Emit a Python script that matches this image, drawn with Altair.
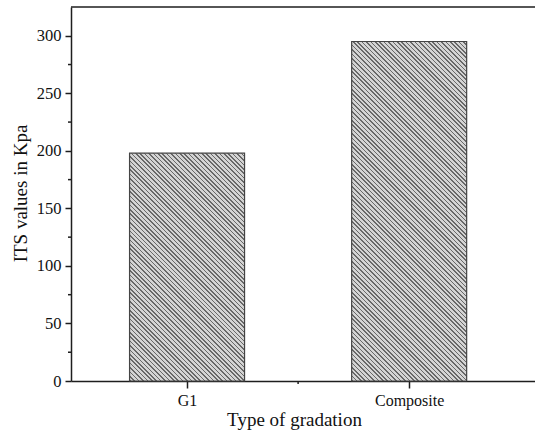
import math

import altair as alt
import pandas as pd

# ---- data -------------------------------------------------------------
categories = ["G1", "Composite"]
its_kpa = [198, 295]

y_major_ticks = [0, 50, 100, 150, 200, 250, 300]
y_minor_ticks = [25, 75, 125, 175, 225, 275]
x_minor_ticks = [1.5]

# ---- layout -----------------------------------------------------------
PLOT_W = 464
PLOT_H = 374
Y_MAX = 325
STEP_PX = 227          # pixels between category centres
BAR_W = 115            # bar width in pixels
X_MIN = 0.5
X_MAX = X_MIN + PLOT_W / STEP_PX

FONT = "Liberation Serif"
INK = "#1e1e1e"

positions = [i + 1 for i in range(len(categories))]
bars_df = pd.DataFrame({"cat": categories, "pos": positions, "value": its_kpa})

label_expr = " : ".join(
    f"datum.value == {p} ? '{c}'" for p, c in zip(positions, categories)
) + " : ''"


def hatch_fill(height_px, width_px, period=3.1, dark_frac=0.36,
               dark="#686868", light="#d4d4d4"):
    """Diagonal '\\' hatching built as a striped linear gradient."""
    w, h = float(width_px), float(height_px)
    k = (w + h) / (w * w + h * h)
    span = (w + h) / math.sqrt(2)
    n = max(1, int(span / period))
    stops = []
    for i in range(n):
        a = i / n
        b = (i + dark_frac) / n
        c = (i + 1) / n
        stops += [
            {"offset": a, "color": dark},
            {"offset": b, "color": dark},
            {"offset": b, "color": light},
            {"offset": c, "color": light},
        ]
    return {
        "gradient": "linear",
        "x1": 0, "y1": 1,
        "x2": k * w, "y2": 1 - k * h,
        "stops": stops,
    }


x_scale = alt.Scale(domain=[X_MIN, X_MAX], nice=False, zero=False)
y_scale = alt.Scale(domain=[0, Y_MAX], nice=False)

x_axis = alt.Axis(
    values=positions,
    labelExpr=label_expr,
    grid=False,
    tickSize=7, tickWidth=1.5, tickColor=INK,
    domainColor=INK, domainWidth=1.5,
    labelFont=FONT, labelFontSize=16, labelColor="#111",
    labelPadding=4,
    title="Type of gradation",
    titleFont=FONT, titleFontSize=19, titleFontWeight="normal", titleColor="#111",
    titleX=223, titleY=44, titleAlign="center", titleBaseline="alphabetic",
)
y_axis = alt.Axis(
    values=y_major_ticks,
    grid=False,
    tickSize=6, tickWidth=1.5, tickColor=INK,
    domainColor=INK, domainWidth=1.5,
    labelFont=FONT, labelFontSize=16.5, labelColor="#111",
    labelPadding=4,
    title="ITS values in Kpa",
    titleFont=FONT, titleFontSize=19, titleFontWeight="normal", titleColor="#111",
    titleAngle=270, titleX=-45, titleY=186,
    titleAlign="center", titleBaseline="alphabetic",
)

layers = []
for cat, val in zip(categories, its_kpa):
    h_px = val * PLOT_H / Y_MAX
    layers.append(
        alt.Chart(bars_df)
        .transform_filter(alt.datum.cat == cat)
        .mark_bar(size=BAR_W, fill=hatch_fill(h_px, BAR_W),
                  stroke="#444444", strokeWidth=1.2)
        .encode(
            x=alt.X("pos:Q", scale=x_scale, axis=x_axis),
            y=alt.Y("value:Q", scale=y_scale, axis=y_axis),
        )
    )

# minor ticks on the y axis
y_minor = (
    alt.Chart(pd.DataFrame({"value": y_minor_ticks}))
    .mark_rule(color=INK, strokeWidth=1.5)
    .encode(
        y=alt.Y("value:Q", scale=y_scale, axis=y_axis),
        x=alt.value(-3),
        x2=alt.value(0),
    )
)

# minor tick on the x axis, between the categories
x_minor = (
    alt.Chart(pd.DataFrame({"pos": x_minor_ticks}))
    .mark_rule(color=INK, strokeWidth=1.5)
    .encode(
        x=alt.X("pos:Q", scale=x_scale, axis=x_axis),
        y=alt.value(PLOT_H),
        y2=alt.value(PLOT_H + 3),
    )
)

# top border of the frame
top_line = (
    alt.Chart(pd.DataFrame({"v": [0]}))
    .mark_rule(color=INK, strokeWidth=1.5)
    .encode(x=alt.value(0), x2=alt.value(PLOT_W), y=alt.value(0))
)

chart = (
    alt.layer(*layers, y_minor, x_minor, top_line)
    .properties(
        width=PLOT_W,
        height=PLOT_H,
        autosize=alt.AutoSizeParams(type="none"),
        padding={"left": 71, "top": 7, "right": 0, "bottom": 54},
        background="white",
    )
    .configure_view(stroke=None)
)

chart.save("out.html", embed_options={"renderer": "svg", "actions": False})
